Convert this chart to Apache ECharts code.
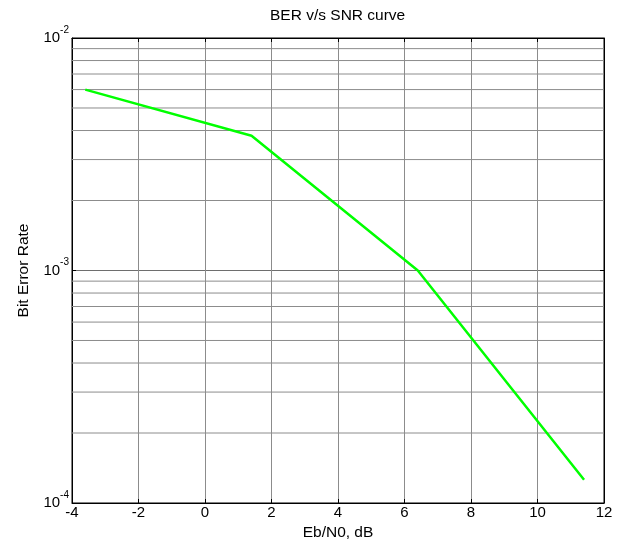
<!DOCTYPE html>
<html>
<head>
<meta charset="utf-8">
<script src="https://cdn.jsdelivr.net/npm/echarts@6/dist/echarts.min.js"></script>
<style>html,body{margin:0;padding:0;background:#fff;}#c{width:623px;height:552px;}</style>
</head>
<body>
<div id="c"></div>
<script>
const ebno = [-3.6, 1.4, 6.4, 11.4];
const ber = [6.0e-3, 3.8e-3, 1.0e-3, 1.26e-4];
const minorGridValues = [2e-4, 3e-4, 4e-4, 5e-4, 6e-4, 7e-4, 8e-4, 9e-4,
                         2e-3, 3e-3, 4e-3, 5e-3, 6e-3, 7e-3, 8e-3, 9e-3];
const xTickMin = -4, xTickMax = 12, xTickStep = 2;
const yMin = 1e-4, yMax = 1e-2;

const FONT = 'Liberation Sans';
const chart = echarts.init(document.getElementById('c'), null, {renderer: 'canvas'});

const supLabel = function (v) {
  const e = Math.round(Math.log10(v));
  return '{base|10}{sup|' + e + '}';
};
const richLbl = {
  base: {fontFamily: FONT, fontSize: 15, color: '#000'},
  sup: {fontFamily: FONT, fontSize: 10, color: '#000', padding: [0, 0, 16, 0]}
};

const axisCommonX = {
  type: 'value', min: xTickMin, max: xTickMax, interval: xTickStep,
  axisLine: {show: true, onZero: false, lineStyle: {color: '#000', width: 1}},
  axisTick: {show: true, inside: true, length: 4, lineStyle: {color: '#000'}},
};
const pairs = ebno.map((x, i) => [x, ber[i]]);

const gridSeries = minorGridValues.map(v => ({
  type: 'line', z: 1, silent: true, symbol: 'none', showSymbol: false,
  data: [[xTickMin, v], [xTickMax, v]],
  lineStyle: {color: '#8c8c8c', width: 1, type: 'solid'},
  emphasis: {disabled: true}, tooltip: {show: false}
}));

const option = {
  animation: false,
  backgroundColor: '#fff',
  title: {
    text: 'BER v/s SNR curve', left: 270, top: 8, padding: 0,
    textStyle: {fontFamily: FONT, fontSize: 15.5, fontWeight: 'normal', color: '#000'}
  },
  grid: {left: 72, right: 19, top: 38, bottom: 49, show: true, borderColor: '#000', borderWidth: 1, backgroundColor: '#fff'},
  xAxis: [
    Object.assign({}, axisCommonX, {
      position: 'bottom',
      name: 'Eb/N0, dB', nameLocation: 'middle', nameGap: 18,
      nameTextStyle: {fontFamily: FONT, fontSize: 15.5, color: '#000'},
      axisLabel: {fontFamily: FONT, fontSize: 15, color: '#000', margin: 2},
      splitLine: {show: true, lineStyle: {color: '#8c8c8c', width: 1}}
    }),
    Object.assign({}, axisCommonX, {
      position: 'top',
      axisLabel: {show: false},
      splitLine: {show: false}
    })
  ],
  yAxis: [
    {
      type: 'log', logBase: 10, min: yMin, max: yMax, position: 'left',
      name: 'Bit Error Rate', nameLocation: 'middle', nameGap: 40,
      nameTextStyle: {fontFamily: FONT, fontSize: 15.5, color: '#000'},
      axisLine: {show: true, onZero: false, lineStyle: {color: '#000'}},
      axisTick: {show: true, inside: true, length: 4, lineStyle: {color: '#000'}},
      axisLabel: {formatter: supLabel, rich: richLbl, margin: 3},
      splitLine: {show: true, lineStyle: {color: '#6e6e6e', width: 1}}
    },
    {
      type: 'log', logBase: 10, min: yMin, max: yMax, position: 'right',
      axisLine: {show: true, onZero: false, lineStyle: {color: '#000'}},
      axisTick: {show: true, inside: true, length: 4, lineStyle: {color: '#000'}},
      axisLabel: {show: false},
      splitLine: {show: false}
    }
  ],
  series: gridSeries.concat([
    {
      type: 'line', z: 5,
      data: pairs,
      showSymbol: false, symbol: 'none',
      lineStyle: {color: '#00ff00', width: 2.5},
      itemStyle: {color: '#00ff00'}
    }
  ])
};
chart.setOption(option);
</script>
</body>
</html>
